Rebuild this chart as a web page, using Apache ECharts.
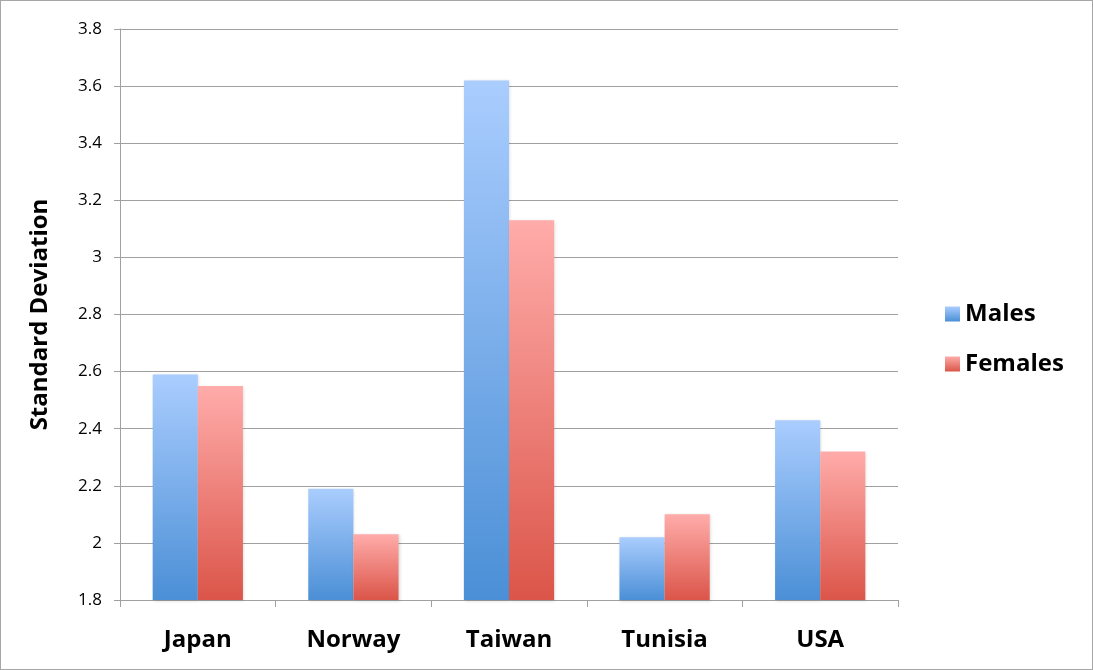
<!DOCTYPE html>
<html><head><meta charset="utf-8">
<script src="https://cdn.jsdelivr.net/npm/echarts@6/dist/echarts.min.js"></script>
<style>html,body{margin:0;padding:0;background:#fff}#c{width:1093px;height:670px;box-sizing:border-box;border:1px solid #a6a6a6}</style>
</head><body><div id="c"></div>
<script>
const categories = ['Japan','Norway','Taiwan','Tunisia','USA'];
const males = [2.59, 2.19, 3.62, 2.02, 2.43];
const females = [2.55, 2.03, 3.13, 2.10, 2.32];
const seriesNames = ['Males','Females'];

const chart = echarts.init(document.getElementById('c'));
const grad = (top, bottom) => new echarts.graphic.LinearGradient(0,0,0,1,[{offset:0,color:top},{offset:1,color:bottom}]);
const lineColor = '#a0a0a0';
const font = '"Open Sans", "DejaVu Sans", sans-serif';
chart.setOption({
  animation:false,
  textStyle:{fontFamily:font},
  grid:{left:119,right:194,top:28,bottom:69},
  legend:{
    orient:'vertical', left:939, top:296, itemWidth:15, itemHeight:15, itemGap:26,
    icon:'rect',
    textStyle:{fontSize:24,fontWeight:'bold',color:'#000',fontFamily:font},
    data:seriesNames
  },
  xAxis:{
    type:'category', data:categories,
    axisLine:{lineStyle:{color:lineColor,width:1}},
    axisTick:{show:true,length:7,lineStyle:{color:lineColor}},
    axisLabel:{fontSize:24,fontWeight:'bold',color:'#000',margin:28,fontFamily:font}
  },
  yAxis:{
    type:'value', min:1.8, max:3.8, interval:0.2,
    name:'Standard Deviation', nameLocation:'middle', nameGap:68,
    nameTextStyle:{fontSize:24,fontWeight:'bold',color:'#000',fontFamily:font},
    axisLine:{show:true,lineStyle:{color:lineColor}},
    axisTick:{show:true,length:6,lineStyle:{color:lineColor}},
    splitLine:{lineStyle:{color:lineColor}},
    axisLabel:{fontSize:17,color:'#000',margin:18,fontFamily:font,
      formatter:v=>String(Math.round(v*10)/10)}
  },
  series:[
    {name:seriesNames[0],type:'bar',data:males,barGap:'0%',barCategoryGap:'42%',
     itemStyle:{color:grad('#aacdfe','#4b8fd6'),shadowColor:'rgba(0,0,0,0.15)',shadowBlur:3,shadowOffsetX:1,shadowOffsetY:1}},
    {name:seriesNames[1],type:'bar',data:females,barGap:'0%',barCategoryGap:'42%',
     itemStyle:{color:grad('#ffacaa','#db5549'),shadowColor:'rgba(0,0,0,0.15)',shadowBlur:3,shadowOffsetX:1,shadowOffsetY:1}}
  ]
});
</script></body></html>
